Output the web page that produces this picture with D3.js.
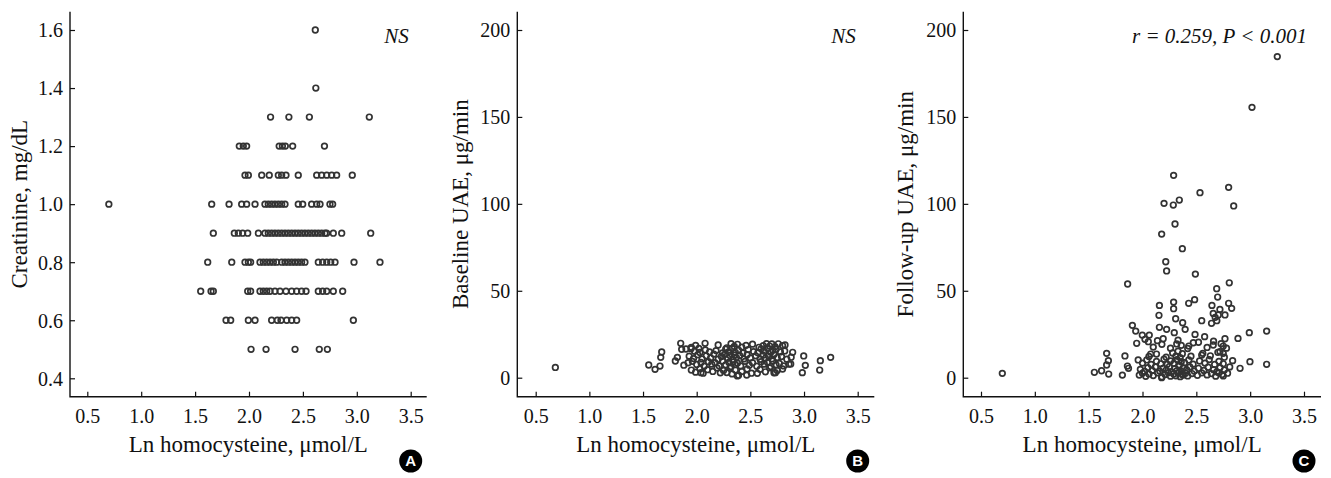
<!DOCTYPE html>
<html><head><meta charset="utf-8">
<script src="https://cdn.jsdelivr.net/npm/d3@7"></script>
<style>
html,body{margin:0;padding:0;background:#fff;}
svg{display:block;}
text{font-family:"Liberation Serif","Times New Roman",serif;fill:#111;}
text.badge{font-family:"Liberation Sans",Arial,sans-serif;font-weight:bold;fill:#fff;}
</style></head>
<body>
<svg id="chart" width="1331" height="478"></svg>
<script>
// ---------- data ----------
const xTicks = [0.5, 1.0, 1.5, 2.0, 2.5, 3.0, 3.5];
const yTicksA = [0.4, 0.6, 0.8, 1.0, 1.2, 1.4, 1.6];
const yTicksUAE = [0, 50, 100, 150, 200];
const xTitle = "Ln homocysteine, \u03bcmol/L";
const yTitles = ["Creatinine, mg/dL", "Baseline UAE, \u03bcg/min", "Follow-up UAE, \u03bcg/min"];
const notes = ["NS", "NS", "r = 0.259, P < 0.001"];
const badges = ["A", "B", "C"];

// Panel A: creatinine (mg/dL) by row
const creat16 = [2.615];
const creat14 = [2.62];
const creat13 = [2.20, 2.37, 2.56, 3.116];
const creat12 = [1.91, 1.947, 1.978, 2.28, 2.31, 2.337, 2.405, 2.70];
const creat11 = [1.963, 1.994, 2.118, 2.188, 2.272, 2.303, 2.343, 2.457, 2.628, 2.674, 2.721, 2.767, 2.813, 2.958];
const creat10 = [0.70, 1.654, 1.815, 1.932, 1.978, 2.056, 2.148, 2.179, 2.21, 2.241, 2.272, 2.303, 2.334, 2.457, 2.498, 2.581, 2.628, 2.659, 2.751, 2.776];
const creat09 = [1.669, 1.864, 1.901, 1.941, 1.988, 2.087, 2.148, 2.179, 2.21, 2.241, 2.272, 2.303, 2.334, 2.365, 2.396, 2.427, 2.457, 2.488, 2.519, 2.55, 2.581, 2.612, 2.643, 2.674, 2.705, 2.72, 2.782, 2.86, 3.129];
const creat08 = [1.617, 1.84, 1.963, 1.994, 2.015, 2.102, 2.133, 2.164, 2.195, 2.226, 2.257, 2.303, 2.334, 2.365, 2.396, 2.427, 2.457, 2.488, 2.519, 2.643, 2.683, 2.721, 2.758, 2.798, 2.974, 3.215];
const creat07 = [1.552, 1.648, 1.669, 1.988, 2.015, 2.102, 2.133, 2.164, 2.195, 2.241, 2.288, 2.343, 2.396, 2.442, 2.488, 2.529, 2.643, 2.683, 2.721, 2.782, 2.869];
const creat06 = [1.787, 1.830, 1.994, 2.056, 2.21, 2.263, 2.297, 2.35, 2.396, 2.442, 2.968];
const creat05 = [2.019, 2.158, 2.427, 2.652, 2.727];

// Panel B: baseline UAE (µg/min), [ln Hcy, UAE]
const baselineUAE = [
 [0.683,5.9],[1.553,7.3],[1.612,4.8],[1.658,6.7],[1.665,11.7],[1.674,14.8],[1.801,9.6],[1.82,11.7],[1.851,19.8],[1.86,16.3],
 [2.894,14.6],[2.997,12.5],[3.012,7.1],[2.984,2.9],[3.152,9.8],[3.146,4.4],[3.248,11.7],[2.823,18.8],[2.876,7.9],
 [2.466,1.5],[2.565,2.5],[2.379,1.0],[2.733,2.9],[2.078,19.8],[1.947,16.7],
 [1.95,17.5],[1.99,18.6],[2.02,16.8],[2.20,18.8],[2.28,17.2],[2.32,19.6],[2.35,18.0],[2.38,19.2],[2.42,17.6],[2.46,18.6],
 [2.52,19.3],[2.58,17.5],[2.62,18.4],[2.65,19.6],[2.68,18.2],[2.70,19.4],[2.73,17.8],[2.76,19.5],[2.80,18.5],
 [1.90,16.5],[1.98,15.2],[2.03,14.5],[2.08,16.0],[2.12,14.8],[2.18,15.6],[2.24,14.2],[2.27,16.4],[2.30,15.0],[2.33,16.8],
 [2.36,14.6],[2.39,15.8],[2.43,14.2],[2.48,16.2],[2.53,15.0],[2.57,14.4],[2.60,16.6],[2.63,15.2],[2.66,16.8],[2.69,14.6],
 [2.71,15.8],[2.74,16.4],[2.78,14.8],[2.82,15.4],
 [1.93,12.4],[1.97,11.0],[2.01,13.2],[2.05,10.8],[2.09,12.6],[2.13,11.4],[2.16,13.6],[2.20,10.6],[2.23,12.2],[2.26,13.4],
 [2.29,11.2],[2.31,12.8],[2.34,10.4],[2.35,13.0],[2.37,11.6],[2.40,12.8],[2.44,10.8],[2.47,13.2],[2.50,11.4],[2.55,12.6],
 [2.59,10.6],[2.62,13.0],[2.64,11.2],[2.67,12.4],[2.70,10.8],[2.72,13.4],[2.75,11.6],[2.79,12.2],[2.84,10.6],[2.88,11.8],
 [1.88,7.2],[1.92,8.6],[1.96,9.4],[2.00,7.6],[2.04,8.8],[2.07,6.6],[2.11,9.2],[2.14,7.8],[2.17,8.6],[2.21,6.8],
 [2.24,9.6],[2.27,7.4],[2.30,8.8],[2.32,6.4],[2.34,9.0],[2.36,7.6],[2.38,8.4],[2.41,6.8],[2.45,9.4],[2.49,7.2],
 [2.52,8.6],[2.56,6.6],[2.60,9.2],[2.63,7.8],[2.66,8.8],[2.69,6.4],[2.71,9.6],[2.74,7.4],[2.77,8.2],[2.81,6.8],[2.86,7.8],
 [1.95,4.4],[1.99,3.2],[2.03,5.2],[2.06,2.6],[2.10,4.6],[2.15,3.6],[2.19,5.6],[2.22,2.8],[2.25,4.2],[2.28,3.0],
 [2.31,5.4],[2.33,2.2],[2.36,4.4],[2.39,1.4],[2.42,3.6],[2.47,5.0],[2.51,2.6],[2.59,4.8],[2.64,3.4],[2.68,5.6],
 [2.72,2.8],[2.75,4.2],[2.80,5.0],[2.04,2.9]
];

// Panel C: follow-up UAE (µg/min), [ln Hcy, UAE]
const followupUAE = [
 [0.698,2.5],[3.252,184.7],[3.017,155.5],[2.289,116.4],[2.800,109.5],[2.534,106.4],[2.200,100.3],[2.286,99.3],[2.342,102.2],
 [2.847,98.8],[2.302,88.4],[2.178,82.6],[2.370,74.2],[2.216,66.7],[2.224,61.4],[2.491,59.6],[1.862,53.9],[2.806,54.6],
 [2.689,51.2],[2.698,46.4],[2.484,44.9],[2.429,42.8],[2.289,43.5],[2.800,42.8],[2.157,41.6],[2.828,39.9],[2.645,41.6],
 [2.719,39.3],[2.289,39.7],[2.657,37.0],[2.704,36.1],[2.766,36.1],[2.153,35.9],[2.308,33.9],[2.373,31.6],[2.550,32.8],
 [2.675,34.7],[2.690,32.8],[1.906,30.1],[2.641,31.3],[2.157,29.0],[2.396,27.8],[1.937,26.8],[2.992,25.9],[3.153,26.8],
 [2.224,27.8],[2.295,25.9],[2.488,24.9],[1.998,24.5],[2.063,24.5],[2.577,23.6],[2.887,22.6],[2.766,22.4],[2.023,22.1],
 [2.192,22.4],[2.139,21.3],[2.472,20.1],[1.946,19.8],[2.054,20.7],[2.657,18.8],[2.318,19.4],[2.750,18.2],[2.719,15.0],
 [2.430,18.2],[1.667,14.0],[1.837,12.5],[1.960,10.2],[2.076,13.6],[2.560,14.0],[2.750,14.0],[3.153,7.7],[2.998,9.2],
 [2.837,9.8],[1.683,9.8],[1.667,7.3],[1.553,3.1],[1.620,4.0],[1.686,2.1],[1.813,1.5],[1.860,6.7],[1.870,5.4],
 [2.906,5.4],[2.750,1.0],[2.178,0.0],[2.379,1.5],
 [1.97,1.5],[2.00,2.6],[2.03,0.8],[2.06,2.2],[2.10,1.2],[2.14,2.8],[2.18,0.5],[2.21,1.8],[2.24,2.9],[2.26,0.9],
 [2.29,2.2],[2.31,1.1],[2.33,2.8],[2.35,0.6],[2.37,1.9],[2.40,2.6],[2.42,1.0],[2.46,2.4],[2.51,1.4],[2.55,2.8],
 [2.60,1.6],[2.64,2.4],[2.68,0.9],[2.71,2.8],[2.74,1.8],[2.79,2.6],
 [1.98,4.8],[2.02,3.6],[2.05,5.8],[2.09,4.2],[2.12,6.2],[2.16,3.8],[2.19,5.4],[2.22,4.4],[2.25,6.4],[2.27,3.4],
 [2.30,5.2],[2.32,4.0],[2.34,6.6],[2.36,3.6],[2.38,5.6],[2.41,4.6],[2.44,6.2],[2.48,3.8],[2.52,5.4],[2.57,4.2],
 [2.61,6.0],[2.66,4.6],[2.69,3.4],[2.72,5.8],[2.76,4.4],[2.81,6.2],
 [2.00,8.4],[2.04,10.2],[2.08,7.6],[2.13,9.4],[2.17,8.0],[2.20,10.6],[2.23,7.8],[2.26,9.6],[2.29,8.2],[2.32,10.4],
 [2.34,7.4],[2.36,9.2],[2.39,8.6],[2.43,10.2],[2.47,7.8],[2.53,9.6],[2.58,8.4],[2.62,10.4],[2.67,7.6],[2.71,9.4],[2.75,8.0],
 [2.06,12.2],[2.13,13.6],[2.22,11.8],[2.28,14.2],[2.31,12.4],[2.33,15.2],[2.35,11.6],[2.37,13.8],[2.45,12.4],[2.55,13.0],
 [2.63,12.6],[2.70,14.6],[2.76,11.8],
 [2.10,17.6],[2.18,19.2],[2.26,17.0],[2.33,21.6],[2.36,18.6],[2.42,16.8],[2.52,20.4],[2.60,17.4],[2.66,21.0],[2.73,19.6],[2.78,17.0]
];

// assemble panel A points from rows
const creatRows = [[1.6,creat16],[1.4,creat14],[1.3,creat13],[1.2,creat12],[1.1,creat11],[1.0,creat10],[0.9,creat09],[0.8,creat08],[0.7,creat07],[0.6,creat06],[0.5,creat05]];
const creatinine = [];
creatRows.forEach(([yv, xs]) => xs.forEach(xv => creatinine.push([xv, yv])));

// ---------- layout ----------
const svg = d3.select("#chart");
const panels = [
  {axisX:70,   right:426.7, xA:87.3,  xB:410.7, yDom:[0.4,1.6], yRng:[378.3,30], ticks:yTicksA, fmt:d3.format(".1f"), data:creatinine, titleX:27},
  {axisX:517.3,right:874.3, xA:535.7, xB:857.7, yDom:[0,200],   yRng:[377.7,30], ticks:yTicksUAE, fmt:d3.format("d"), data:baselineUAE, titleX:468.3},
  {axisX:963.3,right:1321,  xA:981,   xB:1304,  yDom:[0,200],   yRng:[377.7,30], ticks:yTicksUAE, fmt:d3.format("d"), data:followupUAE, titleX:913}
];
const axisY = 396.7, topY = 11.7, tickLen = 5;

panels.forEach((p, i) => {
  const x = d3.scaleLinear().domain([0.5, 3.5]).range([p.xA, p.xB]);
  const y = d3.scaleLinear().domain(p.yDom).range(p.yRng);
  x.domain([x.invert(p.axisX), x.invert(p.right)]).range([p.axisX, p.right]);
  y.domain([y.invert(axisY), y.invert(topY)]).range([axisY, topY]);

  const g = svg.append("g");

  const gx = g.append("g").attr("transform", `translate(0,${axisY})`)
    .call(d3.axisBottom(x).tickValues(xTicks).tickSize(-tickLen).tickPadding(0).tickFormat(d3.format(".1f")));
  gx.select(".domain").remove();
  gx.selectAll("line").attr("stroke", "#111").attr("stroke-width", 1.2);
  gx.selectAll("text").attr("font-size", 20).attr("fill", "#111").attr("y", 26.5).attr("dy", 0);

  const gy = g.append("g").attr("transform", `translate(${p.axisX},0)`)
    .call(d3.axisLeft(y).tickValues(p.ticks).tickSize(-tickLen).tickPadding(0).tickFormat(p.fmt));
  gy.select(".domain").remove();
  gy.selectAll("line").attr("stroke", "#111").attr("stroke-width", 1.2);
  gy.selectAll("text").attr("font-size", 20).attr("fill", "#111").attr("x", -7).attr("dy", "0.34em");

  g.append("path")
    .attr("d", `M${p.axisX},${topY}V${axisY}H${p.right}`)
    .attr("fill", "none").attr("stroke", "#111").attr("stroke-width", 1.4);

  g.append("g").selectAll("circle").data(p.data).join("circle")
    .attr("cx", d => x(d[0])).attr("cy", d => y(d[1])).attr("r", 2.8)
    .attr("fill", "none").attr("stroke", "#333").attr("stroke-width", 1.7);

  g.append("text").attr("x", (p.axisX + p.right) / 2).attr("y", 451.7)
    .attr("text-anchor", "middle").attr("font-size", 23).text(xTitle);

  g.append("text").attr("transform", `translate(${p.titleX},${(topY + axisY) / 2}) rotate(-90)`)
    .attr("text-anchor", "middle").attr("font-size", 23).text(yTitles[i]);

  g.append("text").attr("x", i === 2 ? 1307 : x(3.5) - 2).attr("y", 43.3)
    .attr("text-anchor", "end").attr("font-size", 21).attr("font-style", "italic").text(notes[i]);

  const bx = x(3.5), by = 461;
  g.append("circle").attr("cx", bx).attr("cy", by).attr("r", 11.5).attr("fill", "#000");
  g.append("text").attr("class", "badge").attr("x", bx).attr("y", by).attr("dy", "0.36em")
    .attr("text-anchor", "middle").attr("font-size", 15).text(badges[i]);
});
</script>
</body></html>
